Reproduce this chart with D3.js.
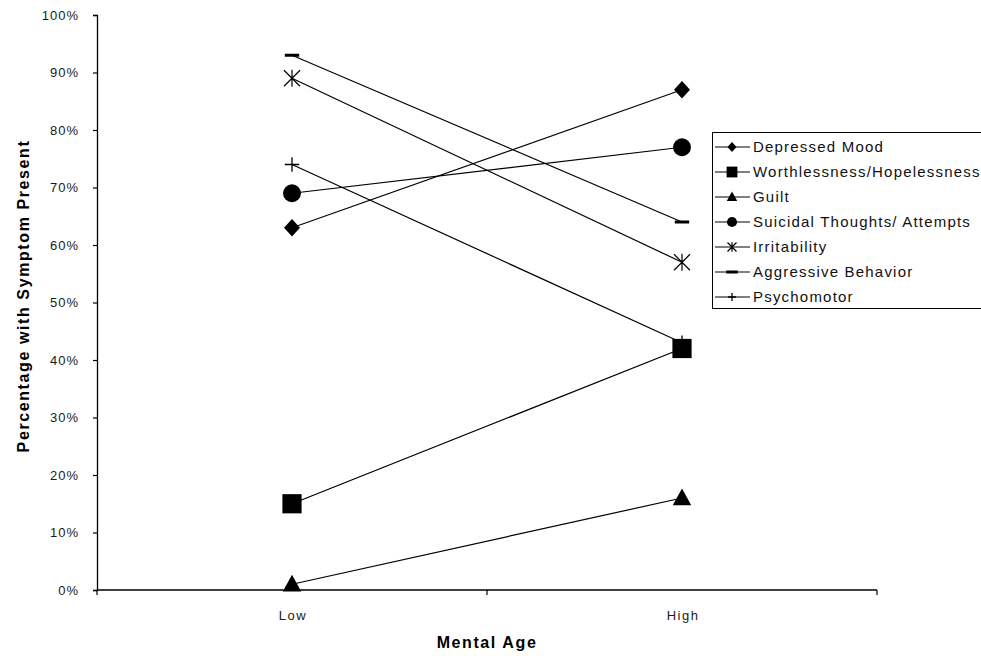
<!DOCTYPE html>
<html>
<head>
<meta charset="utf-8">
<script src="https://cdn.jsdelivr.net/npm/d3@7"></script>
<style>
  html, body { margin: 0; padding: 0; background: #fff; overflow: hidden; }
  svg { display: block; font-family: "Liberation Sans", Arial, sans-serif; }
</style>
</head>
<body>
<svg id="chart" width="981" height="656"></svg>
<script>
// Share of children showing each symptom, by mental age group
const categories = ["Low", "High"];
const seriesNames = [
  "Depressed Mood",
  "Worthlessness/Hopelessness",
  "Guilt",
  "Suicidal Thoughts/ Attempts",
  "Irritability",
  "Aggressive Behavior",
  "Psychomotor"
];
const depressedMood = [0.63, 0.87];
const worthlessness = [0.15, 0.42];
const guilt = [0.01, 0.16];
const suicidal = [0.69, 0.77];
const irritability = [0.89, 0.57];
const aggressive = [0.93, 0.64];
const psychomotor = [0.74, 0.43];
const yTicks = [0, 0.1, 0.2, 0.3, 0.4, 0.5, 0.6, 0.7, 0.8, 0.9, 1.0];

const seriesValues = [depressedMood, worthlessness, guilt, suicidal, irritability, aggressive, psychomotor];
const markerKinds = ["diamond", "square", "triangle", "circle", "asterisk", "dash", "plus"];

const svg = d3.select("#chart");
const plot = { left: 97, right: 877, top: 15, bottom: 590 };

const x = d3.scaleBand().domain(categories).range([plot.left, plot.right]).padding(0);
const y = d3.scaleLinear().domain([0, 1]).range([plot.bottom, plot.top]);
const cx = c => x(c) + x.bandwidth() / 2;

// Y axis
const yAxis = svg.append("g")
  .attr("transform", `translate(${plot.left},0)`)
  .call(d3.axisLeft(y).tickValues(yTicks).tickFormat(d3.format(".0%")).tickSize(4).tickPadding(14));
yAxis.attr("font-family", null).attr("font-size", null);
yAxis.select(".domain").attr("stroke", "#000").attr("stroke-width", 1.3);
yAxis.selectAll(".tick line").attr("stroke", "#000").attr("stroke-width", 1.2);
yAxis.selectAll(".tick text")
  .attr("fill", "#1a1a1a").style("font-size", "13px").style("letter-spacing", "1px");

// X axis line with ticks at category boundaries
const xg = svg.append("g");
xg.append("line")
  .attr("x1", plot.left).attr("x2", plot.right)
  .attr("y1", y(0)).attr("y2", y(0))
  .attr("stroke", "#000").attr("stroke-width", 1.3);
const boundaries = categories.map(c => x(c)).concat([x(categories[categories.length - 1]) + x.bandwidth()]);
xg.selectAll("line.tk").data(boundaries).join("line")
  .attr("class", "tk")
  .attr("x1", d => d).attr("x2", d => d)
  .attr("y1", y(0)).attr("y2", y(0) + 5)
  .attr("stroke", "#000").attr("stroke-width", 1.2);
xg.selectAll("text").data(categories).join("text")
  .attr("x", d => cx(d) + 1).attr("y", y(0) + 30)
  .attr("text-anchor", "middle")
  .attr("fill", "#1a1a1a").style("font-size", "13px").style("letter-spacing", "1.5px")
  .text(d => d);

// Axis titles
svg.append("text")
  .attr("transform", `translate(29,${296}) rotate(-90)`)
  .attr("text-anchor", "middle")
  .style("font-size", "16px").style("font-weight", "bold").style("letter-spacing", "1.6px")
  .text("Percentage with Symptom Present");
svg.append("text")
  .attr("x", 487).attr("y", 648)
  .attr("text-anchor", "middle")
  .style("font-size", "16px").style("font-weight", "bold").style("letter-spacing", "1.6px")
  .text("Mental Age");

// Marker drawing
function drawMarker(g, kind, px, py, s) {
  switch (kind) {
    case "diamond":
      g.append("path").attr("d", `M${px},${py - s * 0.55}L${px + s * 0.5},${py}L${px},${py + s * 0.55}L${px - s * 0.5},${py}Z`).attr("fill", "#000");
      break;
    case "square":
      g.append("rect").attr("x", px - s * 0.6).attr("y", py - s * 0.6).attr("width", s * 1.2).attr("height", s * 1.2).attr("fill", "#000");
      break;
    case "triangle":
      g.append("path").attr("d", `M${px},${py - s * 0.6}L${px + s * 0.58},${py + s * 0.45}L${px - s * 0.58},${py + s * 0.45}Z`).attr("fill", "#000");
      break;
    case "circle":
      g.append("circle").attr("cx", px).attr("cy", py).attr("r", s * 0.56).attr("fill", "#000");
      break;
    case "asterisk": {
      const r = s * 0.5;
      const p = `M${px - r},${py - r}L${px + r},${py + r}M${px + r},${py - r}L${px - r},${py + r}M${px},${py - r * 1.05}L${px},${py + r * 1.05}`;
      g.append("path").attr("d", p).attr("stroke", "#000").attr("stroke-width", 1.2).attr("fill", "none");
      break;
    }
    case "dash":
      g.append("rect").attr("x", px - s * 0.45).attr("y", py - 1.5).attr("width", s * 0.9).attr("height", 3).attr("fill", "#000");
      break;
    case "plus": {
      const r = s * 0.45;
      g.append("path").attr("d", `M${px - r},${py}L${px + r},${py}M${px},${py - r}L${px},${py + r}`)
        .attr("stroke", "#000").attr("stroke-width", 1.3).attr("fill", "none");
      break;
    }
  }
}

// Series lines and markers
const line = d3.line().x((d, i) => cx(categories[i])).y(d => y(d));
const seriesG = svg.append("g");
seriesValues.forEach(vals => {
  seriesG.append("path")
    .datum(vals)
    .attr("d", line)
    .attr("fill", "none")
    .attr("stroke", "#000")
    .attr("stroke-width", 1.2);
});
seriesValues.forEach((vals, si) => {
  const g = seriesG.append("g");
  vals.forEach((v, i) => drawMarker(g, markerKinds[si], cx(categories[i]), y(v), 16));
});

// Legend
const legend = svg.append("g").attr("transform", "translate(712,132)");
legend.append("rect")
  .attr("x", 0.5).attr("y", 0.5).attr("width", 290).attr("height", 176)
  .attr("fill", "#fff").attr("stroke", "#000").attr("stroke-width", 1);
seriesNames.forEach((name, i) => {
  const ly = 15 + i * 25;
  const g = legend.append("g");
  g.append("line").attr("x1", 3).attr("x2", 38).attr("y1", ly).attr("y2", ly)
    .attr("stroke", "#000").attr("stroke-width", 1.2);
  drawMarker(g, markerKinds[i], 20, ly, markerKinds[i] === "dash" ? 13 : 9);
  g.append("text").attr("x", 41).attr("y", ly + 5)
    .style("font-size", "15px").style("letter-spacing", "1.2px").attr("fill", "#111")
    .text(name);
});
</script>
</body>
</html>
